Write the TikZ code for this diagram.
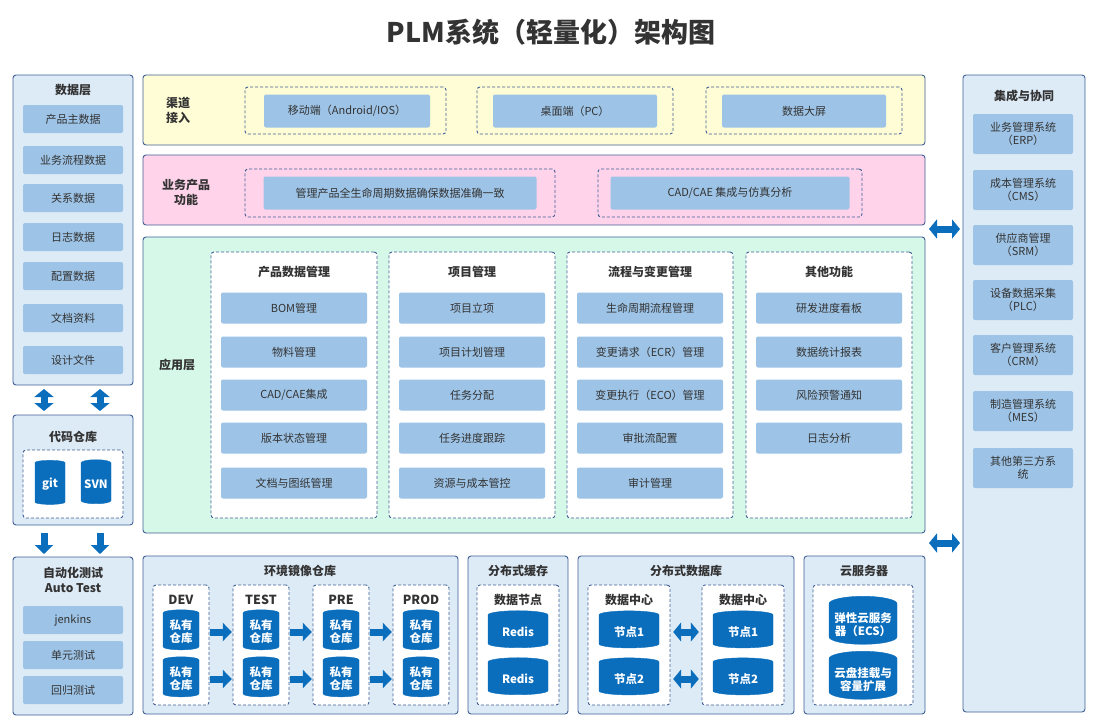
\documentclass[tikz,border=0pt]{standalone}
\usepackage{fontspec}
\setmainfont{Noto Sans CJK SC}
\usetikzlibrary{shapes.geometric,arrows.meta}
\definecolor{obg}{HTML}{DDEBF7}
\definecolor{obd}{HTML}{3F5F95}
\definecolor{itm}{HTML}{9DC3E6}
\definecolor{cyl}{HTML}{0A6EBD}
\definecolor{ylw}{HTML}{FFFDD5}
\definecolor{pnk}{HTML}{FFD3EA}
\definecolor{grn}{HTML}{D6F8E8}
\definecolor{txt}{HTML}{333333}
\tikzset{
 outer/.style={draw=obd,fill=obg,line width=0.9pt,rounded corners=3pt},
 dbox/.style={draw=obd,fill=white,dash pattern=on 3pt off 2pt,line width=0.9pt,rounded corners=3pt},
 item/.style={fill=itm,rounded corners=2pt,text=txt,font=\fontsize{11}{13}\selectfont,align=center,inner sep=1pt},
 cy/.style={cylinder,shape border rotate=90,aspect=0.25,fill=cyl,draw=cyl,text=white,font=\bfseries\fontsize{11.5}{13}\selectfont,align=center,inner sep=1pt},
 ttl/.style={font=\bfseries\fontsize{12}{15}\selectfont,text=txt,align=center},
 barrow/.style={draw=cyl,line width=7pt,-{Triangle[length=9pt,width=18pt]}},
 dbarrow/.style={draw=cyl,line width=7pt,{Triangle[length=8pt,width=19pt]}-{Triangle[length=8pt,width=19pt]}},
}
\newcommand\bx[6]{\node[#6,minimum width={((#4)-(#2))*1pt},minimum height={((#5)-(#3))*1pt}] (#1) at ({((#2)+(#4))/2},{((#3)+(#5))/2}) {};}
\newcommand\mkit[6]{\node[item,minimum width={#4*1pt},minimum height={#5*1pt}] (#1) at (#2,#3) {#6};}
\begin{document}
\begin{tikzpicture}[x=1pt,y=-1pt]
\useasboundingbox (0,0) rectangle (1102,725);
\fill[white] (0,0) rectangle (1102,725);
\node[font=\bfseries\fontsize{27}{32}\selectfont,text=txt] (title) at (551,32) {PLM系统（轻量化）架构图};
% left: data layer
\bx{data}{13}{75}{133}{385}{outer}
\node[ttl] at (73,90) {数据层};
\foreach \t/\y [count=\i] in {产品主数据/119,业务流程数据/160,关系数据/198,日志数据/237,配置数据/276,文档资料/318,设计文件/360}
  {\mkit{d\i}{73}{\y}{100}{28}{\t}}
% code repo
\bx{code}{13}{415}{133}{525}{outer}
\node[ttl] at (73,437) {代码仓库};
\bx{coded}{23}{450}{123}{518}{dbox}
\node[cy,minimum width=30pt,minimum height=44pt] (git) at (50,484) {git};
\node[cy,minimum width=30pt,minimum height=44pt] (svn) at (96,484) {SVN};
\coordinate (a1) at (44,389); \coordinate (a2) at (44,411);
\coordinate (a3) at (100,389); \coordinate (a4) at (100,411);
\draw[dbarrow] (a1) -- (a2); \draw[dbarrow] (a3) -- (a4);
\coordinate (b1) at (44,533); \coordinate (b2) at (44,554);
\coordinate (b3) at (100,533); \coordinate (b4) at (100,554);
\draw[barrow] (b1) -- (b2); \draw[barrow] (b3) -- (b4);
% auto test
\bx{test}{13}{557}{133}{715}{outer}
\node[ttl] at (73,580) {自动化测试\\Auto Test};
\mkit{j1}{73}{620}{100}{28}{jenkins}
\mkit{j2}{73}{655}{100}{28}{单元测试}
\mkit{j3}{73}{690}{100}{28}{回归测试}
% right
\bx{integ}{963}{75}{1085}{712}{outer}
\node[ttl] at (1024,96) {集成与协同};
\foreach \t/\y [count=\i] in {业务管理系统\\（ERP）/134,成本管理系统\\（CMS）/190,供应商管理\\（SRM）/245,设备数据采集\\（PLC）/300,客户管理系统\\（CRM）/355,制造管理系统\\（MES）/411,其他第三方系\\统/468}
  {\mkit{r\i}{1023}{\y}{100}{40}{\t}}
\coordinate (h1) at (929,229); \coordinate (h2) at (960,229);
\coordinate (h3) at (929,543); \coordinate (h4) at (960,543);
\draw[dbarrow] (h1) -- (h2); \draw[dbarrow] (h3) -- (h4);
% channel
\bx{chan}{143}{75}{925}{145}{outer,fill=ylw}
\node[ttl] at (178,110) {渠道\\接入};
\bx{c1}{245}{87}{446}{134}{dbox,fill=ylw}
\bx{c2}{477}{87}{673}{134}{dbox,fill=ylw}
\bx{c3}{706}{87}{902}{134}{dbox,fill=ylw}
\mkit{ci1}{347}{111}{166}{33}{移动端（Android/IOS）}
\mkit{ci2}{575}{111}{164}{33}{桌面端（PC）}
\mkit{ci3}{804}{111}{164}{33}{数据大屏}
% business
\bx{biz}{143}{155}{925}{225}{outer,fill=pnk}
\node[ttl] at (186,192) {业务产品\\功能};
\bx{p1}{245}{169}{555}{217}{dbox,fill=pnk}
\bx{p2}{598}{169}{862}{217}{dbox,fill=pnk}
\mkit{pi1}{400}{193}{273}{33}{管理产品全生命周期数据确保数据准确一致}
\mkit{pi2}{730}{193}{239}{33}{CAD/CAE 集成与仿真分析}
% application
\bx{app}{143}{237}{925}{533}{outer,fill=grn}
\node[ttl] at (177,365) {应用层};
\foreach \x/\t [count=\k] in {294/产品数据管理,472/项目管理,650/流程与变更管理,829/其他功能}{
  \bx{col\k}{\x-83}{252}{\x+83}{518}{dbox}
  \node[ttl] at (\x,272) {\t};
}
\foreach \t/\y [count=\i] in {BOM管理/308,物料管理/352,{CAD/CAE集成}/395,版本状态管理/438,文档与图纸管理/483}{\mkit{ma\i}{294}{\y}{146}{31}{\t}}
\foreach \t/\y [count=\i] in {项目立项/308,项目计划管理/352,任务分配/395,任务进度跟踪/438,资源与成本管控/483}{\mkit{mb\i}{472}{\y}{146}{31}{\t}}
\foreach \t/\y [count=\i] in {生命周期流程管理/308,变更请求（ECR）管理/352,变更执行（ECO）管理/395,审批流配置/438,审计管理/483}{\mkit{mc\i}{650}{\y}{146}{31}{\t}}
\foreach \t/\y [count=\i] in {研发进度看板/308,数据统计报表/352,风险预警通知/395,日志分析/438}{\mkit{md\i}{829}{\y}{146}{31}{\t}}
% env mirror
\bx{env}{143}{556}{458}{714}{outer}
\node[ttl] at (300,571) {环境镜像仓库};
\foreach \x/\t/\n in {181/DEV/e1,261/TEST/e2,341/PRE/e3,421/PROD/e4}{
  \bx{\n}{\x-28}{585}{\x+28}{705}{dbox}
  \node[ttl,font=\bfseries\fontsize{12.5}{15}\selectfont] at (\x,600) {\t};
  \node[cy,minimum width=36pt,minimum height=40pt] (\n a) at (\x,632) {私有\\仓库};
  \node[cy,minimum width=36pt,minimum height=40pt] (\n b) at (\x,679) {私有\\仓库};
}
\foreach \p/\q in {e1/e2,e2/e3,e3/e4}{
  \draw[barrow,shorten <=11pt,shorten >=11pt] (\p a.east) -- (\q a.west);
  \draw[barrow,shorten <=11pt,shorten >=11pt] (\p b.east) -- (\q b.west);
}
% cache
\bx{cache}{468}{556}{568}{714}{outer}
\node[ttl] at (518,571) {分布式缓存};
\bx{cached}{477}{585}{559}{705}{dbox}
\node[ttl] at (518,600) {数据节点};
\node[cy,minimum width=60pt,minimum height=37pt] (rd1) at (518,632) {Redis};
\node[cy,minimum width=60pt,minimum height=37pt] (rd2) at (518,679) {Redis};
% db
\bx{db}{578}{556}{794}{714}{outer}
\node[ttl] at (686,571) {分布式数据库};
\bx{dc1}{588}{585}{670}{705}{dbox}
\bx{dc2}{702}{585}{784}{705}{dbox}
\node[ttl] at (629,600) {数据中心};
\node[ttl] at (743,600) {数据中心};
\node[cy,minimum width=60pt,minimum height=37pt] (n11) at (629,632) {节点1};
\node[cy,minimum width=60pt,minimum height=37pt] (n12) at (629,679) {节点2};
\node[cy,minimum width=60pt,minimum height=37pt] (n21) at (743,632) {节点1};
\node[cy,minimum width=60pt,minimum height=37pt] (n22) at (743,679) {节点2};
\draw[dbarrow,shorten <=14pt,shorten >=14pt] (n11.east) -- (n21.west);
\draw[dbarrow,shorten <=14pt,shorten >=14pt] (n12.east) -- (n22.west);
% cloud
\bx{cloud}{804}{556}{925}{714}{outer}
\node[ttl] at (864,571) {云服务器};
\bx{cloudd}{813}{585}{913}{705}{dbox}
\node[cy,minimum width=68pt,minimum height=48pt] (ecs) at (863,625) {弹性云服务\\器（ECS）};
\node[cy,minimum width=68pt,minimum height=48pt] (disk) at (863,680) {云盘挂载与\\容量扩展};
\end{tikzpicture}
\end{document}
